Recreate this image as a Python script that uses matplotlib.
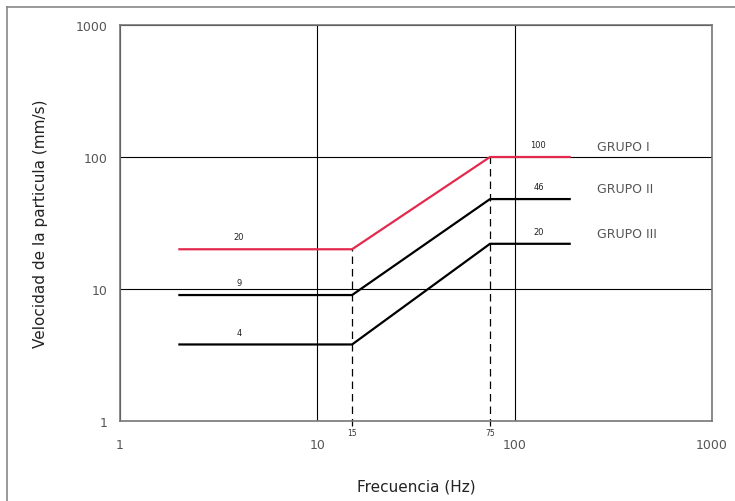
import matplotlib.pyplot as plt
from matplotlib.lines import Line2D

# frecuencias de los tramos (Hz)
frec = [2, 15, 75, 190]
# velocidades por grupo (mm/s)
grupo1 = [20, 20, 100, 100]
grupo2 = [9, 9, 48, 48]
grupo3 = [3.8, 3.8, 22, 22]
nombres = ["GRUPO I", "GRUPO II", "GRUPO III"]
etiq_izq = ["20", "9", "4"]
etiq_der = ["100", "46", "20"]
frec_quiebre = [15, 75]

fig = plt.figure(figsize=(7.35, 5.02), dpi=100)
ax = fig.add_axes([120 / 735, 1 - 422 / 502, 592 / 735, 396 / 502])

series = [grupo1, grupo2, grupo3]
colores = ["#e4294f", "black", "black"]
for s, c in zip(series, colores):
    ax.plot(frec, s, color=c, lw=1.6, zorder=3)

# lineas verticales discontinuas en 15 y 75 Hz
ax.plot([15, 15], [0.91, grupo1[1]], color="black", lw=0.9, ls=(0, (6, 4)), clip_on=False, zorder=2)
ax.plot([75, 75], [0.91, grupo1[2]], color="black", lw=0.9, ls=(0, (6, 4)), clip_on=False, zorder=2)
for f in frec_quiebre:
    ax.text(f, 0.89, str(f), fontsize=5.5, ha="center", va="top", color="#333333")

# etiquetas de valores
for s, t in zip(series, etiq_izq):
    ax.text(4, s[0] * 1.24, t, fontsize=6, ha="center", va="center", color="#222222")
for s, t, n in zip(series, etiq_der, nombres):
    ax.text(132, s[3] * 1.25, t, fontsize=6, ha="center", va="center", color="#222222")
    ax.text(260, s[3] * 1.2, n, fontsize=9, ha="left", va="center", color="#555555")

ax.set_xscale("log")
ax.set_yscale("log")
ax.set_xlim(1, 1000)
ax.set_ylim(1, 1000)
ax.set_xticks([1, 10, 100, 1000])
ax.set_xticklabels(["1", "10", "100", "1000"])
ax.set_yticks([1, 10, 100, 1000])
ax.set_yticklabels(["1", "10", "100", "1000"])
ax.minorticks_off()
ax.tick_params(length=0, labelsize=9, labelcolor="#555555")
ax.tick_params(axis="x", pad=12)
ax.tick_params(axis="y", pad=9)
ax.grid(True, color="black", lw=0.8)
for sp in ax.spines.values():
    sp.set_color("#777777")
    sp.set_linewidth(1.2)

ax.set_xlabel("Frecuencia (Hz)", fontsize=11, color="#222222", labelpad=20)
ax.set_ylabel("Velocidad de la particula (mm/s)", fontsize=11, color="#222222", labelpad=20)

# marco exterior (solo arriba e izquierda visibles)
fig.add_artist(Line2D([7 / 735, 1.0], [1 - 8 / 502, 1 - 8 / 502], transform=fig.transFigure,
                      color="#888888", lw=1.2))
fig.add_artist(Line2D([7 / 735, 7 / 735], [0.0, 1 - 8 / 502], transform=fig.transFigure,
                      color="#888888", lw=1.2))

plt.savefig("out.png", dpi=100)
